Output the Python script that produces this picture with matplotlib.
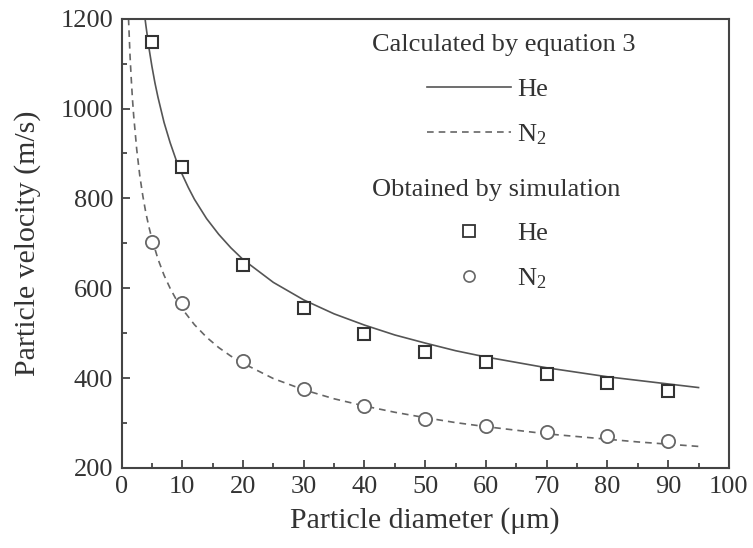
import numpy as np
from matplotlib import pyplot as plt
from matplotlib.lines import Line2D
from matplotlib.ticker import MultipleLocator

plt.rcParams['font.family'] = ['Liberation Serif', 'DejaVu Serif']
plt.rcParams['mathtext.fontset'] = 'custom'
plt.rcParams['mathtext.rm'] = 'Liberation Serif'
plt.rcParams['mathtext.default'] = 'regular'

# curves from equation 3
d_he_curve = [3.87, 4, 4.5, 5, 5.5, 6, 7, 8, 9, 10, 11, 12, 14, 16, 18, 20, 25,
              30, 35, 40, 45, 50, 55, 60, 65, 70, 75, 80, 85, 90, 95]
v_he_curve = [1200, 1186, 1136, 1094, 1057, 1025, 969, 924, 885, 853, 824, 798,
              755, 720, 690, 664, 613, 574, 543, 518, 496, 478, 461, 447, 435,
              423, 413, 403, 395, 387, 379]

d_n2_curve = [1.15, 1.4, 1.6, 1.8, 2, 2.5, 3, 3.5, 4, 4.5, 5, 6, 7, 8, 9, 10,
              12, 14, 16, 18, 20, 25, 30, 35, 40, 45, 50, 55, 60, 65, 70, 75,
              80, 85, 90, 95]
v_n2_curve = [1200, 1117, 1066, 1021, 984, 909, 851, 806, 768, 737, 710, 665,
              629, 600, 575, 554, 519, 491, 468, 449, 433, 399, 374, 354, 338,
              324, 312, 301, 292, 284, 276, 270, 264, 258, 253, 248]

# simulation points
d_sim = [5, 10, 20, 30, 40, 50, 60, 70, 80, 90]
v_he_sim = [1148, 870, 651, 557, 499, 458, 435, 409, 389, 372]
v_n2_sim = [704, 567, 438, 375, 337, 308, 294, 281, 271, 259]

txt = '#333333'
fs = 19
fig = plt.figure(figsize=(7.53, 5.48), dpi=100)
ax = fig.add_axes([0.1614, 0.146, 0.8066, 0.820])

ax.plot(d_he_curve, v_he_curve, '-', color='#555555', lw=1.2, zorder=2)
ax.plot(d_n2_curve, v_n2_curve, color='#666666', lw=1.2, ls=(0, (4, 3)), zorder=2)
ax.plot(d_sim, v_he_sim, 's', ms=9, mfc='white', mec='#333333', mew=1.5, zorder=3)
ax.plot(d_sim, v_n2_sim, 'o', ms=9.5, mfc='white', mec='#666666', mew=1.3, zorder=3)

ax.set_xlim(0, 100)
ax.set_ylim(200, 1200)
ax.xaxis.set_major_locator(MultipleLocator(10))
ax.xaxis.set_minor_locator(MultipleLocator(5))
ax.yaxis.set_major_locator(MultipleLocator(200))
ax.yaxis.set_minor_locator(MultipleLocator(100))
ax.tick_params(which='both', direction='in', top=False, right=False,
               color='#444444', width=1.3, labelsize=fs, labelcolor=txt, pad=6)
ax.tick_params(which='major', length=6)
ax.tick_params(which='minor', length=3.5)
for s in ax.spines.values():
    s.set_linewidth(1.5)
    s.set_color('#444444')

ax.set_xlabel('Particle diameter (\u03bcm)', fontsize=21.5, color=txt, labelpad=6)
ax.set_ylabel('Particle velocity (m/s)', fontsize=21.5, color=txt, labelpad=14)

# legend headers
ax.text(0.412, 0.928, 'Calculated by equation 3', transform=ax.transAxes,
        fontsize=fs, color=txt, ha='left', va='baseline')
ax.text(0.412, 0.605, 'Obtained by simulation', transform=ax.transAxes,
        fontsize=fs, color=txt, ha='left', va='baseline')

leg_kw = dict(loc='upper left', frameon=False, fontsize=fs, handlelength=3.2,
              handletextpad=0.2, labelspacing=0.8, borderpad=0,
              borderaxespad=0, labelcolor=txt)

h1 = [Line2D([], [], color='#555555', lw=1.2),
      Line2D([], [], color='#666666', lw=1.2, ls=(0, (4, 3)))]
leg1 = ax.legend(h1, ['He', 'N$_2$'], bbox_to_anchor=(0.503, 0.868), **leg_kw)
ax.add_artist(leg1)

h2 = [Line2D([], [], ls='none', marker='s', ms=8, mfc='white', mec='#333333', mew=1.3),
      Line2D([], [], ls='none', marker='o', ms=8, mfc='white', mec='#666666', mew=1.2)]
ax.legend(h2, ['He', 'N$_2$'], bbox_to_anchor=(0.503, 0.548), **leg_kw)

fig.savefig('out.png', dpi=100)
